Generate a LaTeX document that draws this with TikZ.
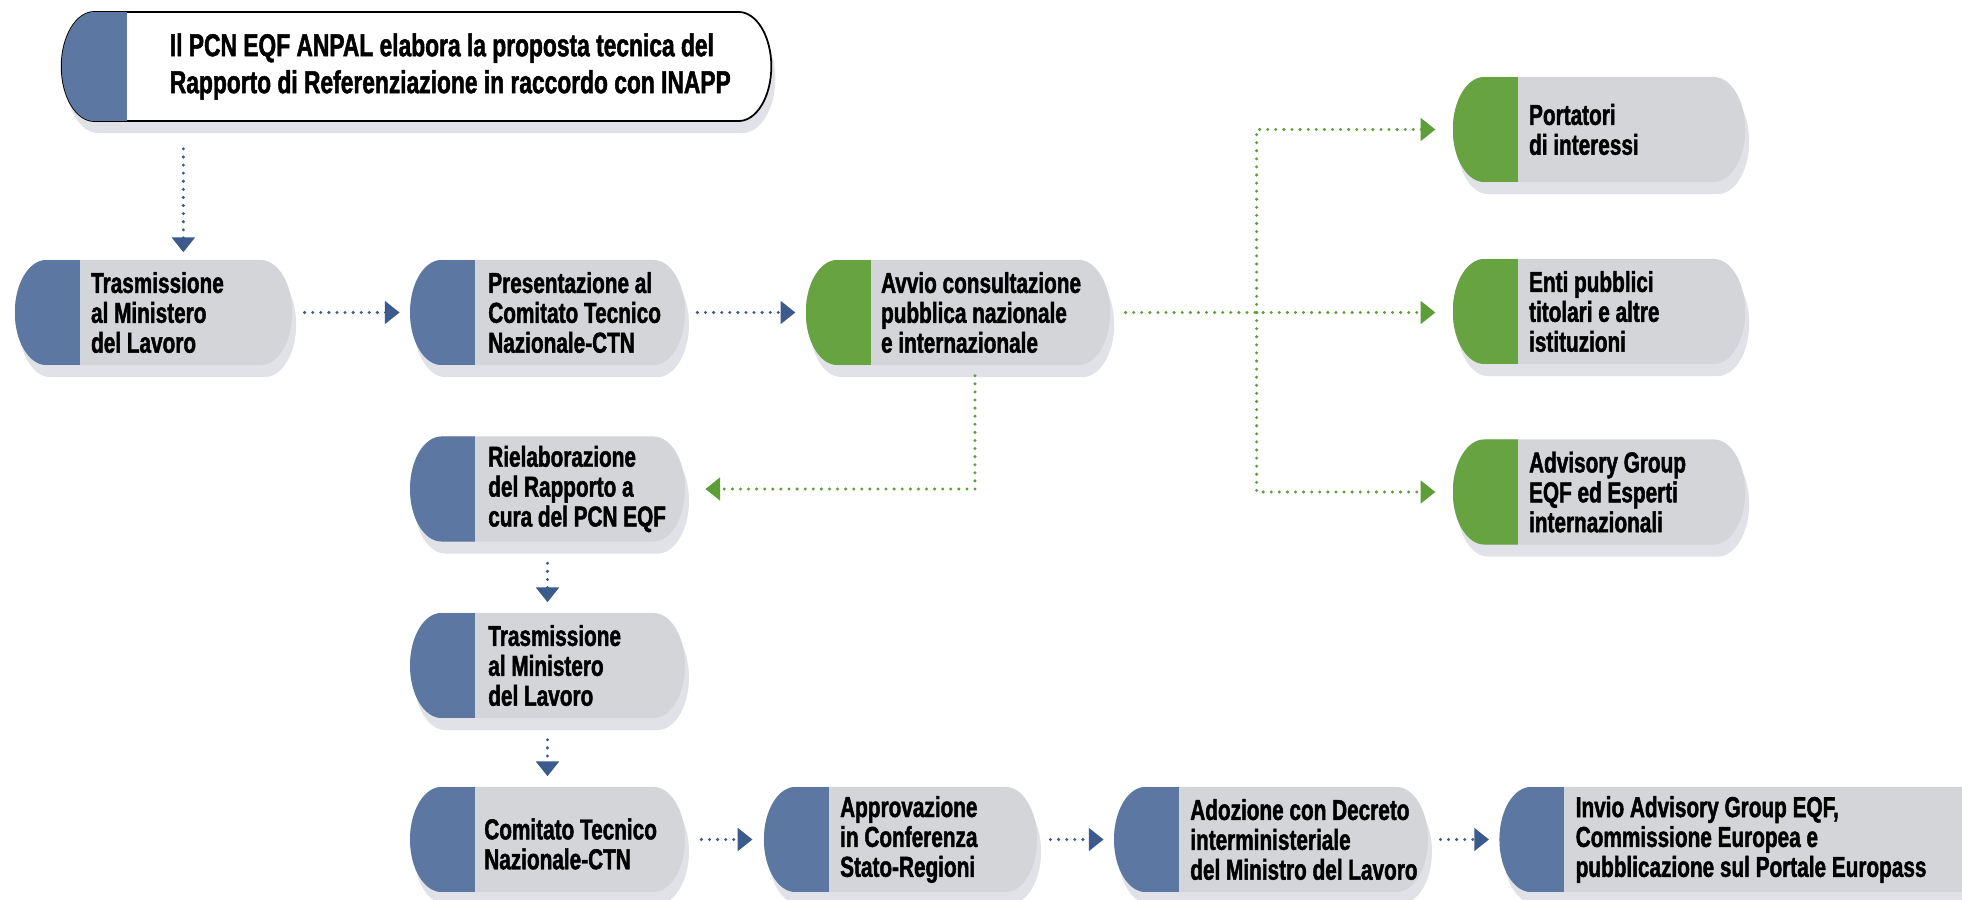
\documentclass[tikz,border=0pt]{standalone}
\usepackage{fontspec}
\newfontfamily\condfont{Liberation Sans}[FakeStretch=0.72, FakeBold=1.5]
\usetikzlibrary{shapes.misc,shadows,arrows.meta,calc}

\definecolor{capblue}{HTML}{5C77A1}
\definecolor{capgreen}{HTML}{68A342}
\definecolor{boxgrey}{HTML}{D3D5D8}
\definecolor{shadowgrey}{HTML}{E0E2E8}
\definecolor{arrowblue}{HTML}{3C5B8C}
\definecolor{dotgreen}{HTML}{5E9E3A}

\begin{document}
\begin{tikzpicture}[
        x=0.01cm, y=-0.01cm,
        pill/.style={rounded rectangle, xscale=0.6, minimum height=1.05cm, inner sep=0pt, fill=boxgrey,
            drop shadow={shadow xshift=0.04cm, shadow yshift=-0.12cm, fill=shadowgrey, opacity=1}},
        cap/.style={path picture={\fill[#1] (path picture bounding box.south west) rectangle ([xshift=1.08cm]path picture bounding box.north west);}},
        txt/.style={anchor=west, align=left, inner sep=0pt, font=\condfont\bfseries\fontsize{8.2}{8.5}\selectfont},
        flow/.style={arrowblue, line width=0.95pt, line cap=round, dash pattern=on 0pt off 2.3pt,
            -{Triangle[length=4.2pt, width=6.4pt]}, shorten <=0.12cm, shorten >=0.1cm},
        greenflow/.style={flow, dotgreen},
    ]
        \path[use as bounding box, fill=white] (0,0) rectangle (1962,900);

        % proposta tecnica
        \node[pill, fill=white, draw=black, line width=0.5pt, minimum width=11.82cm, minimum height=1.09cm,
            postaction={cap=capblue}] (top) at (416.5,66.5) {};
        \node[txt, font=\condfont\bfseries\fontsize{9}{10.5}\selectfont] (top-t) at ($(top.west)+(108,0)$)
            {Il PCN EQF ANPAL elabora la proposta tecnica del\\Rapporto di Referenziazione in raccordo con INAPP};

        % prima riga
        \node[pill, cap=capblue, minimum width=4.62cm] (trasmA) at (153.5,312.5) {};
        \node[txt] (trasmA-t) at ($(trasmA.west)+(76,0)$) {Trasmissione\\al Ministero\\del Lavoro};

        \node[pill, cap=capblue, minimum width=4.58cm] (presB) at (547.5,312.5) {};
        \node[txt] (presB-t) at ($(presB.west)+(78,0)$) {Presentazione al\\Comitato Tecnico\\Nazionale-CTN};

        \node[pill, cap=capgreen, minimum width=5.07cm] (avvio) at (958,312.5) {};
        \node[txt] (avvio-t) at ($(avvio.west)+(75,0)$) {Avvio consultazione\\pubblica nazionale\\e internazionale};

        % consultazione
        \node[pill, cap=capgreen, minimum width=4.87cm] (portatori) at (1599,129.5) {};
        \node[txt] (portatori-t) at ($(portatori.west)+(76,0)$) {Portatori\\di interessi};

        \node[pill, cap=capgreen, minimum width=4.87cm] (enti) at (1599,311.5) {};
        \node[txt] (enti-t) at ($(enti.west)+(76,0)$) {Enti pubblici\\titolari e altre\\istituzioni};

        \node[pill, cap=capgreen, minimum width=4.87cm] (advisory) at (1599,492) {};
        \node[txt] (advisory-t) at ($(advisory.west)+(76,0)$) {Advisory Group\\EQF ed Esperti\\internazionali};

        % colonna centrale
        \node[pill, cap=capblue, minimum width=4.58cm] (rielab) at (547.5,489) {};
        \node[txt] (rielab-t) at ($(rielab.west)+(78,0)$) {Rielaborazione\\del Rapporto a\\cura del PCN EQF};

        \node[pill, cap=capblue, minimum width=4.58cm] (trasm2) at (547.5,665.5) {};
        \node[txt] (trasm2-t) at ($(trasm2.west)+(78,0)$) {Trasmissione\\al Ministero\\del Lavoro};

        % ultima riga
        \node[pill, cap=capblue, minimum width=4.58cm] (comitato) at (547.5,839.5) {};
        \node[txt] (comitato-t) at ($(comitato.west)+(74,0)$) {\mbox{}\\Comitato Tecnico\\Nazionale-CTN};

        \node[pill, cap=capblue, minimum width=4.55cm] (approv) at (900.5,839.5) {};
        \node[txt] (approv-t) at ($(approv.west)+(76,0)$) {Approvazione\\in Conferenza\\Stato-Regioni};

        \node[pill, cap=capblue, minimum width=5.23cm] (adoz) at (1271,839.5) {};
        \node[txt] (adoz-t) at ($(adoz.west)+(76,0)$) {Adozione con Decreto\\interministeriale\\del Ministro del Lavoro};

        \node[pill, cap=capblue, minimum width=8.33cm] (invio) at (1749.5,839.5) {};
        \node[txt] (invio-t) at ($(invio.west)+(76,0)$) {Invio Advisory Group EQF,\\Commissione Europea e\\pubblicazione sul Portale Europass};

        % frecce
        \coordinate (drop) at ([xshift=-2.33cm]top.south);
        \draw[flow, shorten <=0.27cm, shorten >=0.07cm] (drop) -- (drop |- trasmA.north);
        \draw[flow] (trasmA.east) -- (presB.west);
        \draw[flow] (presB.east) -- (avvio.west);

        \coordinate (split) at ($(avvio.east)+(146,0)$);
        \draw[greenflow, shorten <=0.15cm, shorten >=0.17cm] (avvio.east) -- (avvio.east -| enti.west);
        \draw[greenflow, shorten <=0pt, shorten >=0.17cm] (split) |- (portatori.west);
        \draw[greenflow, shorten <=0pt, shorten >=0.17cm] (split) |- (advisory.west);
        \draw[greenflow, shorten <=0.1cm, shorten >=0.2cm] ([xshift=0.17cm]avvio.south) |- (rielab.east);

        \draw[flow, shorten <=0.21cm] (rielab.south) -- (trasm2.north);
        \draw[flow, shorten <=0.21cm] (trasm2.south) -- (comitato.north);
        \draw[flow, shorten <=0.16cm, shorten >=0.11cm] (comitato.east) -- (approv.west);
        \draw[flow, shorten <=0.13cm] (approv.east) -- (adoz.west);
        \draw[flow] (adoz.east) -- (invio.west);
    \end{tikzpicture}
\end{document}
